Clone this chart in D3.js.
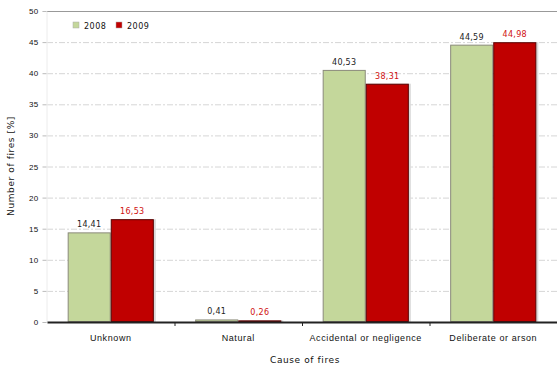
<!DOCTYPE html>
<html>
<head>
<meta charset="utf-8">
<script src="https://d3js.org/d3.v7.min.js"></script>
<style>
html, body { margin: 0; padding: 0; background: #fff; }
svg { display: block; font-family: 'DejaVu Sans', sans-serif; }
</style>
</head>
<body>
<svg width="557" height="367"></svg>
<script>
var categories = ["Unknown", "Natural", "Accidental or negligence", "Deliberate or arson"];
var series = ["2008", "2009"];
var values2008 = [14.41, 0.41, 40.53, 44.59];
var values2009 = [16.53, 0.26, 38.31, 44.98];
var yTicks = [0, 5, 10, 15, 20, 25, 30, 35, 40, 45, 50];

var colors = {"2008": "#c4d79b", "2009": "#c00000"};
var borders = {"2008": "#8a8a7a", "2009": "#5a0000"};
var labelColors = {"2008": "#222", "2009": "#d01010"};

var svg = d3.select("svg");
var m = {left: 47, right: 557, top: 11, bottom: 322};

var x = d3.scaleBand().domain(categories).range([m.left, m.right]).paddingInner(0).paddingOuter(0);
var xs = d3.scaleBand().domain(series).range([0, x.bandwidth()]).paddingInner(0).paddingOuter(0.48);
var y = d3.scaleLinear().domain([0, 50]).range([m.bottom, m.top]);

// grid
svg.append("g").selectAll("line").data(yTicks.filter(function(t) { return t > 0 && t < 50; }))
  .enter().append("line")
  .attr("x1", m.left).attr("x2", m.right)
  .attr("y1", function(d) { return y(d) + 0.5; }).attr("y2", function(d) { return y(d) + 0.5; })
  .attr("stroke", "#d6d6d6").attr("stroke-dasharray", "6,2,2,2");
svg.append("line").attr("x1", m.left).attr("x2", m.right)
  .attr("y1", y(50) + 0.5).attr("y2", y(50) + 0.5).attr("stroke", "#999");

// y axis
var yAxis = svg.append("g").attr("transform", "translate(" + (m.left - 0.5) + ",0)")
  .call(d3.axisLeft(y).tickValues(yTicks).tickSize(4).tickPadding(4));
yAxis.select(".domain").attr("stroke", "#ececec");
yAxis.selectAll(".tick line").attr("stroke", "#bbb");
yAxis.selectAll("text").attr("font-size", 8).attr("fill", "#111").attr("letter-spacing", 0.3);

// bars
var data = [];
categories.forEach(function(c, i) {
  data.push({cat: c, s: "2008", v: values2008[i]});
  data.push({cat: c, s: "2009", v: values2009[i]});
});

var g = svg.append("g");
// shadow for red bars
g.selectAll("rect.sh").data(data.filter(function(d) { return d.s === "2009"; }))
  .enter().append("rect")
  .attr("x", function(d) { return x(d.cat) + xs(d.s) + 2; })
  .attr("y", function(d) { return y(d.v); })
  .attr("width", xs.bandwidth())
  .attr("height", function(d) { return y(0) - y(d.v); })
  .attr("fill", "#dadada");

g.selectAll("rect.bar").data(data).enter().append("rect")
  .attr("x", function(d) { return x(d.cat) + xs(d.s) + 0.5; })
  .attr("y", function(d) { return y(d.v) + 0.5; })
  .attr("width", xs.bandwidth() - 1)
  .attr("height", function(d) { return Math.max(0, y(0) - y(d.v) - 1); })
  .attr("fill", function(d) { return colors[d.s]; })
  .attr("stroke", function(d) { return borders[d.s]; })
  .attr("stroke-width", 1);

// value labels
g.selectAll("text.lab").data(data).enter().append("text")
  .attr("x", function(d) { return x(d.cat) + xs(d.s) + xs.bandwidth() / 2; })
  .attr("y", function(d) { return y(d.v) - 5; })
  .attr("text-anchor", "middle")
  .attr("font-size", 8)
  .attr("letter-spacing", 0.3)
  .attr("fill", function(d) { return labelColors[d.s]; })
  .text(function(d) { return d.v.toFixed(2).replace(".", ","); });

// x axis
var xAxis = svg.append("g").attr("transform", "translate(0," + m.bottom + ")")
  .call(d3.axisBottom(x).tickSize(0).tickPadding(13));
xAxis.select(".domain").attr("stroke", "#222").attr("stroke-width", 2);
xAxis.selectAll("text").attr("font-size", 9).attr("letter-spacing", 0.6).attr("fill", "#111");
svg.append("g").selectAll("line").data(categories.slice(1)).enter().append("line")
  .attr("x1", function(d) { return x(d) + 0.5; }).attr("x2", function(d) { return x(d) + 0.5; })
  .attr("y1", m.bottom).attr("y2", m.bottom + 4).attr("stroke", "#222");

// axis titles
svg.append("text").attr("x", 305).attr("y", 363)
  .attr("text-anchor", "middle").attr("font-size", 9).attr("letter-spacing", 0.6)
  .attr("fill", "#111").text("Cause of fires");
svg.append("text").attr("transform", "translate(14,166) rotate(-90)")
  .attr("text-anchor", "middle").attr("font-size", 9).attr("letter-spacing", 0.6)
  .attr("fill", "#111").text("Number of fires [%]");

// legend
var leg = svg.append("g").attr("transform", "translate(73,22)");
series.forEach(function(s, i) {
  var lg = leg.append("g").attr("transform", "translate(" + (i * 43) + ",0)");
  lg.append("rect").attr("width", 6).attr("height", 6).attr("fill", colors[s]).attr("stroke", "#aaa").attr("stroke-width", 0.5);
  lg.append("text").attr("x", 11).attr("y", 6.5).attr("font-size", 8).attr("letter-spacing", 0.5)
    .attr("fill", "#111").text(s);
});
</script>
</body>
</html>
